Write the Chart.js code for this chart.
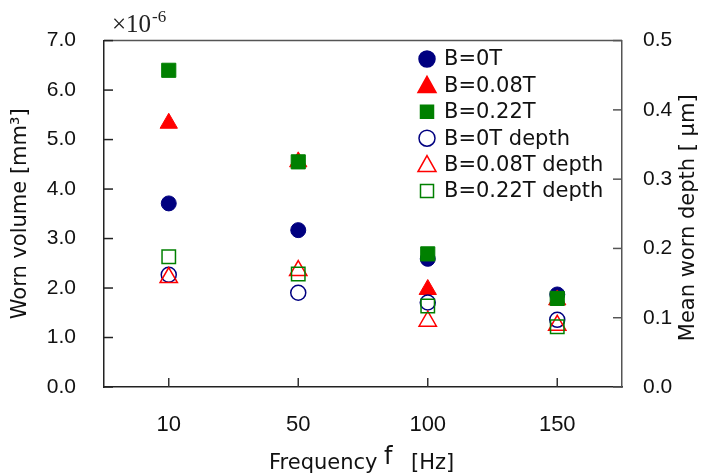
<!DOCTYPE html>
<html>
<head>
<meta charset="utf-8">
<script src="https://cdn.jsdelivr.net/npm/chart.js@4"></script>
<style>
  html, body { margin: 0; padding: 0; background: #fff; }
  #wrap { width: 703px; height: 476px; }
</style>
</head>
<body>
<div id="wrap"><canvas id="wearCanvas" width="703" height="476"></canvas></div>
<script>
// frequency [Hz]
var freqs = ['10', '50', '100', '150'];

// worn volume [x10^-6 mm3], left axis
var vol0T   = [3.71, 3.17, 2.59, 1.87];
var vol008T = [5.33, 4.55, 1.97, 1.76];
var vol022T = [6.40, 4.55, 2.69, 1.79];

// mean worn depth [um], right axis
var dep0T   = [0.162, 0.136, 0.122, 0.097];
var dep008T = [0.158, 0.168, 0.095, 0.089];
var dep022T = [0.188, 0.163, 0.117, 0.087];

var volTicks = [0, 1, 2, 3, 4, 5, 6, 7];
var depTicks = [0, 0.1, 0.2, 0.3, 0.4, 0.5];

var navy = '#000080', red = '#ff0000', green = '#008000';
var numFont = '"Liberation Sans", Arial, sans-serif';
var txtFont = '"DejaVu Sans", sans-serif';

function mk(label, data, axis, color, style, filled, r, ord) {
  return {
    label: label,
    data: data,
    yAxisID: axis,
    showLine: false,
    pointStyle: style,
    pointRadius: r,
    pointHoverRadius: r,
    borderColor: color,
    backgroundColor: filled ? color : 'rgba(0,0,0,0)',
    pointBorderWidth: filled ? 1 : 1.5,
    order: ord
  };
}

// inward tick marks, top border, titles, legend and the x10^-6 note
var decor = {
  id: 'decor',
  afterDraw: function (chart) {
    var c = chart.ctx, a = chart.chartArea;
    c.save();
    c.lineWidth = 1.5;
    c.strokeStyle = '#555';
    c.beginPath();
    c.moveTo(a.left, a.top);
    c.lineTo(a.right, a.top);
    c.stroke();

    var yl = chart.scales.y, yr = chart.scales.y2, x = chart.scales.x;
    c.strokeStyle = '#222';
    volTicks.forEach(function (v) {
      var p = yl.getPixelForValue(v);
      c.beginPath(); c.moveTo(a.left, p); c.lineTo(a.left + 9, p); c.stroke();
    });
    c.strokeStyle = '#555';
    depTicks.forEach(function (v) {
      var p = yr.getPixelForValue(v);
      c.beginPath(); c.moveTo(a.right, p); c.lineTo(a.right - 9, p); c.stroke();
    });
    c.strokeStyle = '#333';
    freqs.forEach(function (f, i) {
      var p = x.getPixelForValue(i);
      c.beginPath(); c.moveTo(p, a.bottom); c.lineTo(p, a.bottom - 9); c.stroke();
    });

    // x10^-6
    c.fillStyle = '#222';
    c.textBaseline = 'alphabetic';
    c.textAlign = 'left';
    c.font = '25px "Liberation Serif", serif';
    c.fillText('\u00d710', 112, 32);
    c.font = '17px "Liberation Serif", serif';
    c.fillText('-6', 152, 22);

    // x title with raised f
    c.fillStyle = '#111';
    c.font = '21px ' + txtFont;
    c.fillText('Frequency', 269, 469);
    c.font = '24px ' + txtFont;
    c.fillText('f', 384, 464);
    c.font = '21px ' + txtFont;
    c.fillText('[Hz]', 411, 469);

    // right title, reading upward
    c.save();
    c.translate(694, (a.top + a.bottom) / 2 + 4);
    c.rotate(-Math.PI / 2);
    c.textAlign = 'center';
    c.font = '21px ' + txtFont;
    c.fillText('Mean worn depth [ \u03bcm]', 0, 0);
    c.restore();

    // legend
    var lx = 427, ly = 59, step = 26.4;
    chart.data.datasets.forEach(function (ds, i) {
      var cy = ly + i * step;
      c.strokeStyle = ds.borderColor;
      c.fillStyle = ds.backgroundColor;
      c.lineWidth = 1.5;
      c.beginPath();
      if (ds.pointStyle === 'circle') {
        c.arc(lx, cy, 8, 0, Math.PI * 2);
      } else if (ds.pointStyle === 'triangle') {
        c.moveTo(lx, cy - 9);
        c.lineTo(lx + 9, cy + 7);
        c.lineTo(lx - 9, cy + 7);
        c.closePath();
      } else {
        c.rect(lx - 6.5, cy - 6.5, 13, 13);
      }
      c.fill();
      c.stroke();
      c.fillStyle = '#111';
      c.font = '21px ' + txtFont;
      c.textBaseline = 'middle';
      c.fillText(ds.label, 444, cy + 1);
    });
    c.restore();
  }
};

new Chart(document.getElementById('wearCanvas'), {
  type: 'line',
  data: {
    labels: freqs,
    datasets: [
      mk('B=0T', vol0T, 'y', navy, 'circle', true, 7.5, 5),
      mk('B=0.08T', vol008T, 'y', red, 'triangle', true, 10, 4),
      mk('B=0.22T', vol022T, 'y', green, 'rect', true, 10, 3),
      mk('B=0T depth', dep0T, 'y2', navy, 'circle', false, 7.5, 2),
      mk('B=0.08T depth', dep008T, 'y2', red, 'triangle', false, 10, 1),
      mk('B=0.22T depth', dep022T, 'y2', green, 'rect', false, 9.5, 0)
    ]
  },
  options: {
    responsive: false,
    animation: false,
    layout: { padding: { top: 38, right: 0, left: 0, bottom: 0 } },
    plugins: { legend: { display: false }, tooltip: { enabled: false } },
    scales: {
      x: {
        type: 'category',
        offset: true,
        grid: { display: false, drawTicks: false },
        border: { display: true, color: '#222', width: 1.5 },
        ticks: { padding: 25, color: '#111', font: { size: 22, family: numFont } },
        afterFit: function (s) { s.height = 89; }
      },
      y: {
        position: 'left',
        min: 0, max: 7,
        grid: { display: false, drawTicks: false },
        border: { display: true, color: '#222', width: 1.5 },
        ticks: { stepSize: 1, padding: 28, color: '#111', font: { size: 21, family: numFont },
                 callback: function (v) { return v.toFixed(1); } },
        title: { display: true, text: 'Worn volume [mm\u00b3]', color: '#111', padding: { top: 8, bottom: 0 }, font: { size: 21, family: txtFont } },
        afterFit: function (s) { s.width = 104; }
      },
      y2: {
        position: 'right',
        min: 0, max: 0.5,
        grid: { display: false, drawTicks: false },
        border: { display: true, color: '#555', width: 1.5 },
        ticks: { stepSize: 0.1, padding: 21, color: '#111', font: { size: 21, family: numFont },
                 callback: function (v) { return v.toFixed(1); } },
        afterFit: function (s) { s.width = 81; }
      }
    }
  },
  plugins: [decor]
});
</script>
</body>
</html>
